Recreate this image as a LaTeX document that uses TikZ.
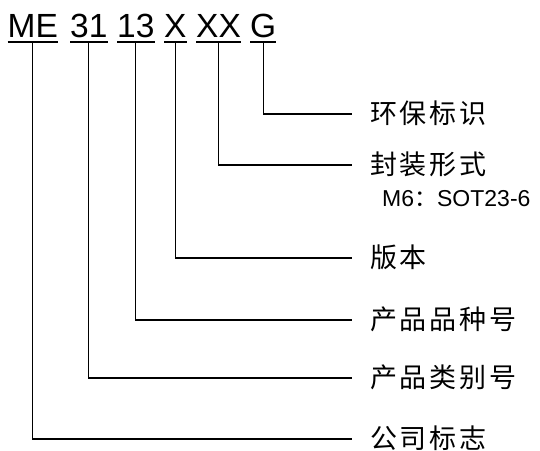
\documentclass[tikz,border=0pt]{standalone}
\usepackage{fontspec}
\setmainfont{Liberation Sans}
\newfontfamily\cjk{Noto Sans CJK SC}
\newfontfamily\cjkwide[LetterSpace=10]{Noto Sans CJK SC}

\tikzset{
  code/.style={anchor=base west, inner sep=0pt, font=\fontsize{33.5}{36}\selectfont},
  desc/.style={anchor=west, inner ysep=0pt, inner xsep=18pt, text height=20pt, text depth=1.5pt,
               font=\cjkwide\fontsize{27}{30}\selectfont},
  note/.style={anchor=base west, inner sep=0pt, font=\fontsize{23}{25}\selectfont},
  lead/.style={line width=1.2pt},
  uline/.style={line width=2pt}
}

\begin{document}
\begin{tikzpicture}[x=1pt,y=-1pt]
    \useasboundingbox (0,0) rectangle (540,450);

    % 型号各段
    \node[code] (me)  at (7.5,37) {ME};
    \node[code] (c31) at (70,37)  {31};
    \node[code] (c13) at (117,37) {13};
    \node[code] (x)   at (164,37) {X};
    \node[code] (xx)  at (196,37) {XX};
    \node[code] (g)   at (250,37) {G};

    % 下划线
    \foreach \p in {me,c31,c13,x,xx,g}
        \draw[uline] ([yshift=-4.7pt]\p.base west) -- ([yshift=-4.7pt]\p.base east);

    % 说明文字
    \node[desc] (l-g)   at (352,114) {环保标识};
    \node[desc] (l-xx)  at (352,165) {封装形式};
    \node[note] (m6)    at (382,206) {M6{\cjk ：}SOT23-6};
    \node[desc] (l-x)   at (352,258) {版本};
    \node[desc] (l-c13) at (352,320) {产品品种号};
    \node[desc] (l-c31) at (352,378) {产品类别号};
    \node[desc] (l-me)  at (352,439) {公司标志};

    % 引线
    \foreach \p in {me,c31,c13,x,xx,g}
        \draw[lead] ([yshift=-4.7pt]\p.base) |- (l-\p.west);

\end{tikzpicture}
\end{document}
